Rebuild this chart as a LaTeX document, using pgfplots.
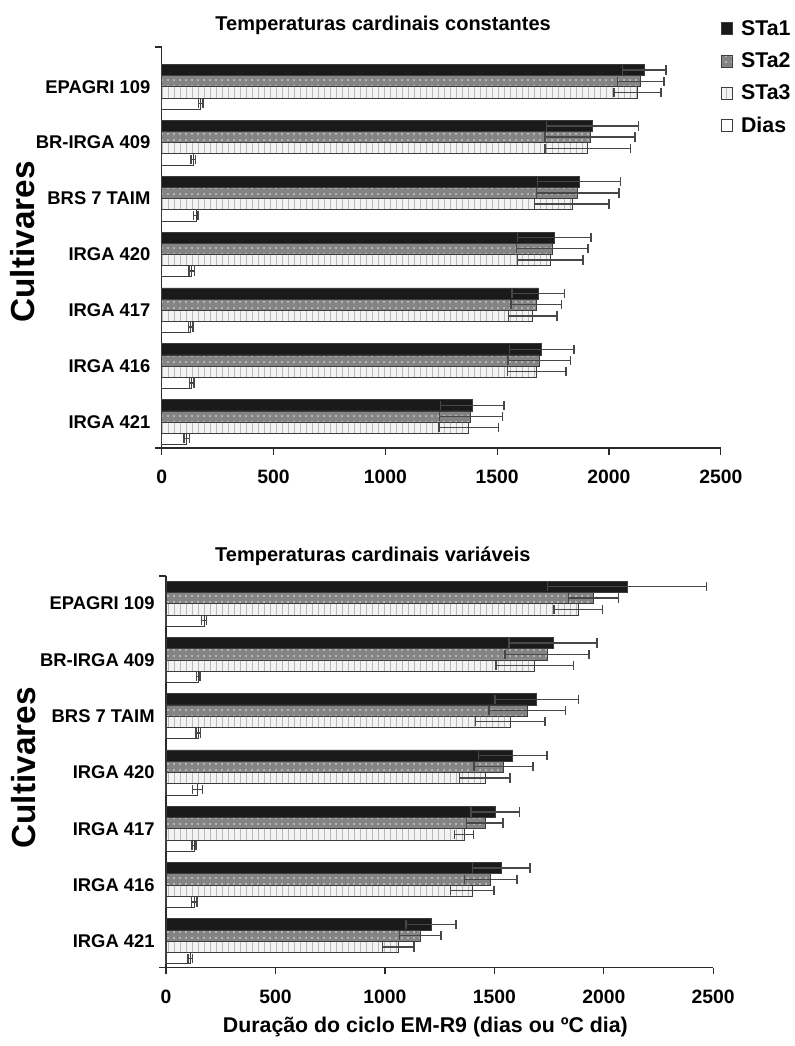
\documentclass[border=0pt]{standalone}
\usepackage{fontspec}
\setmainfont{Liberation Sans}
\usepackage{pgfplots}
\pgfplotsset{compat=1.18}
\usepackage{pgfplotstable}
\usetikzlibrary{patterns.meta}

\definecolor{barblack}{HTML}{1A1A1A}
\definecolor{bargray}{HTML}{848484}
\definecolor{barlight}{HTML}{F3F3F3}
\definecolor{edge}{HTML}{3C3C3C}
\definecolor{axcol}{HTML}{2A2A2A}

% y: 0 = EPAGRI 109 ... 6 = IRGA 421
\pgfplotstableread{
y a ae b be c ce d de
0 2158 97 2142 104 2127 105 174 10
1 1927 206 1915 202 1905 191 141 10
2 1866 185 1860 185 1834 166 153 10
3 1756 164 1746 160 1737 147 134 12
4 1684 117 1674 113 1659 108 130 10
5 1699 145 1689 140 1677 130 134 10
6 1388 142 1382 141 1373 134 112 12
}\topdata

\pgfplotstableread{
y a ae b be c ce d de
0 2106 363 1953 115 1883 111 173 12
1 1769 201 1740 192 1685 177 148 8
2 1694 190 1650 175 1572 159 148 10
3 1584 157 1542 135 1457 115 143 23
4 1504 111 1457 83 1362 43 128 10
5 1531 131 1483 120 1399 100 129 12
6 1210 114 1161 95 1061 73 110 10
}\botdata

\pgfplotsset{
  sta1/.style={fill=barblack, draw=edge, line width=0.5pt},
  sta2/.style={fill=bargray, draw=edge, line width=0.5pt,
    postaction={pattern color=white!80!bargray, pattern={Dots[distance=4.5pt,radius=0.6pt]}}},
  sta3/.style={fill=barlight, draw=edge, line width=0.5pt,
    postaction={pattern color=gray!55, pattern={Lines[angle=90,distance=4.5pt,line width=0.35pt]}}},
  dias/.style={fill=white, draw=edge, line width=0.5pt},
  errs/.style={error bars/.cd, x dir=both, x explicit, error mark=|,
    error bar style={line width=1pt, color=black!72},
    error mark options={line width=1.1pt, mark size=3.5pt, color=black!72}},
  myaxis/.style={
    scale only axis,
    xbar=0pt,
    bar width=0.2,
    xmin=0, xmax=2500,
    xtick={0,500,...,2500},
    y dir=reverse,
    ytick={0,...,6},
    yticklabels={EPAGRI 109, BR-IRGA 409, BRS 7 TAIM, IRGA 420, IRGA 417, IRGA 416, IRGA 421},
    axis x line*=bottom,
    axis y line*=left,
    axis line style={line width=1pt, color=axcol},
    tick align=outside,
    major tick length=5pt,
    xtick style={line width=1pt, color=axcol},
    ytick style={draw=none},
    /pgf/number format/assume math mode=true,
    /pgf/number format/1000 sep={},
    xticklabel style={font=\bfseries\fontsize{14.5}{16}\selectfont, yshift=-8pt},
    yticklabel style={font=\bfseries\fontsize{13.8}{15}\selectfont, xshift=0pt},
    every axis title/.style={font=\bfseries\fontsize{15}{17}\selectfont, anchor=center},
    ylabel={Cultivares},
    ylabel style={font=\bfseries\fontsize{25}{27}\selectfont, anchor=center},
    clip=false,
  },
}

\begin{document}
\begin{tikzpicture}
\path[use as bounding box] (0,0) rectangle (595.5pt,784.5pt);

% ---------- top panel ----------
\begin{axis}[myaxis,
  at={(121.3pt,448.5pt)}, anchor=south west,
  width=419.3pt, height=300.75pt,
  ymin=-0.712, ymax=6.465,
  title={Temperaturas cardinais constantes},
  title style={at={(axis description cs:0.396,1.053)}},
  ylabel style={at={(axis description cs:-0.249,0.514)}},
  legend style={at={(axis description cs:1.0,1.0705)}, anchor=north west,
    draw=none, fill=none, font=\bfseries\fontsize{16}{18}\selectfont,
    row sep=9.5pt, inner sep=0pt, nodes={inner sep=1pt}},
  legend cell align=left,
  legend image code/.code={\draw[#1, line width=0.5pt] (0pt,-4.5pt) rectangle (8.5pt,4.5pt); \path (13.5pt,0pt);},
]
\addplot[sta1, errs] table[x=a, y=y, x error=ae] {\topdata};
\addplot[sta2, errs] table[x=b, y=y, x error=be] {\topdata};
\addplot[sta3, errs] table[x=c, y=y, x error=ce] {\topdata};
\addplot[dias, errs] table[x=d, y=y, x error=de] {\topdata};
\legend{STa1, STa2, STa3, Dias}
\draw[line width=1pt, axcol] (rel axis cs:0,0) -- ([xshift=-5pt]rel axis cs:0,0);
\draw[line width=1pt, axcol] (rel axis cs:0,1) -- ([xshift=-5pt]rel axis cs:0,1);
\end{axis}

% ---------- bottom panel ----------
\begin{axis}[myaxis,
  at={(124.5pt,58.7pt)}, anchor=south west,
  width=410.4pt, height=293.8pt,
  ymin=-0.49, ymax=6.47,
  title={Temperaturas cardinais variáveis},
  title style={at={(axis description cs:0.378,1.051)}},
  ylabel style={at={(axis description cs:-0.26,0.51)}},
  xlabel={Duração do ciclo EM-R9 (dias ou ºC dia)},
  xlabel style={font=\bfseries\fontsize{16}{18}\selectfont, at={(axis description cs:0.474,-0.151)}, anchor=center},
]
\addplot[sta1, errs] table[x=a, y=y, x error=ae] {\botdata};
\addplot[sta2, errs] table[x=b, y=y, x error=be] {\botdata};
\addplot[sta3, errs] table[x=c, y=y, x error=ce] {\botdata};
\addplot[dias, errs] table[x=d, y=y, x error=de] {\botdata};
\draw[line width=1pt, axcol] (rel axis cs:0,0) -- ([xshift=-5pt]rel axis cs:0,0);
\draw[line width=1pt, axcol] (rel axis cs:0,1) -- ([xshift=-5pt]rel axis cs:0,1);
\end{axis}
\end{tikzpicture}
\end{document}
